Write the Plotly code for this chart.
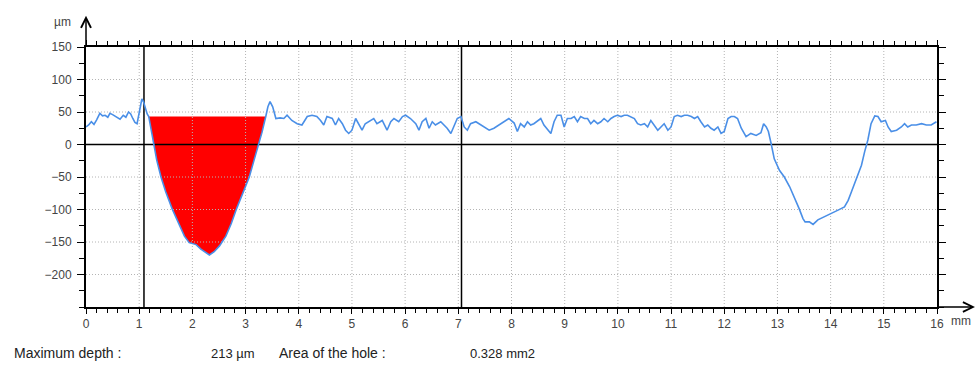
import numpy as np
import plotly.graph_objects as go

# Surface profile: position along the scan (mm) and height (µm)
X_MM = [
    0.00, 0.05, 0.10, 0.15, 0.20, 0.26, 0.31, 0.36, 0.41, 0.45, 0.50, 0.55, 0.60, 0.64,
    0.70, 0.75, 0.80, 0.84, 0.88, 0.92, 0.96, 1.00, 1.03, 1.05, 1.08, 1.12, 1.15,
    1.18, 1.23, 1.28, 1.33, 1.41, 1.50, 1.62, 1.74, 1.85, 1.94, 2.00, 2.07, 2.16, 2.26,
    2.32, 2.41, 2.51, 2.63, 2.73, 2.83, 2.96, 3.07, 3.16, 3.25, 3.31, 3.38, 3.42, 3.46,
    3.51, 3.57, 3.65, 3.72, 3.78, 3.87, 3.97, 4.06, 4.16, 4.25, 4.34, 4.41, 4.47, 4.53,
    4.63, 4.69, 4.75, 4.82, 4.88, 4.94, 5.00, 5.07, 5.13, 5.19, 5.25, 5.32, 5.41, 5.47,
    5.57, 5.66, 5.73, 5.79, 5.88, 5.95, 6.01, 6.10, 6.20, 6.26, 6.32, 6.39, 6.45, 6.51,
    6.57, 6.67, 6.73, 6.79, 6.86, 6.92, 6.98, 7.05, 7.11, 7.17, 7.23, 7.33, 7.42, 7.48,
    7.58, 7.67, 7.76, 7.86, 7.95, 8.05, 8.11, 8.17, 8.24, 8.30, 8.36, 8.42, 8.49, 8.55,
    8.61, 8.68, 8.74, 8.80, 8.86, 8.93, 8.99, 9.05, 9.12, 9.18, 9.24, 9.30, 9.37, 9.43,
    9.49, 9.55, 9.62, 9.68, 9.74, 9.81, 9.87, 9.93, 9.99, 10.06, 10.12, 10.18, 10.24,
    10.31, 10.37, 10.43, 10.50, 10.56, 10.62, 10.68, 10.75, 10.81, 10.87, 10.94, 11.00,
    11.06, 11.12, 11.19, 11.25, 11.31, 11.38, 11.44, 11.50, 11.56, 11.63, 11.69, 11.75,
    11.81, 11.88, 11.94, 12.00, 12.07, 12.13, 12.19, 12.25, 12.32, 12.41, 12.50, 12.60,
    12.69, 12.74, 12.79, 12.83, 12.88, 12.94, 13.04, 13.13, 13.23, 13.32, 13.41, 13.48,
    13.52, 13.60, 13.67, 13.76, 13.89, 14.01, 14.14, 14.26, 14.33, 14.39, 14.48, 14.58,
    14.64, 14.70, 14.76, 14.83, 14.89, 14.95, 15.03, 15.08, 15.14, 15.24, 15.33, 15.39,
    15.45, 15.52, 15.61, 15.71, 15.80, 15.89, 15.99,
]
Y_UM = [
    27, 30, 35, 31, 38, 48, 44, 45, 42, 48, 46, 43, 40, 39,
    45, 42, 50, 47, 40, 34, 32, 48, 62, 70, 66, 55, 47,
    43, 19, 0, -24, -50, -73, -99, -122, -141, -151, -152, -154, -161, -166,
    -170, -165, -156, -141, -122, -99, -73, -50, -24, 0, 19, 43, 58, 66,
    58, 40, 41, 40, 45, 37, 32, 30, 43, 45, 43, 37, 30, 43,
    40, 30, 40, 32, 22, 17, 22, 40, 30, 22, 32, 35, 40, 32,
    37, 22, 35, 40, 35, 43, 45, 40, 32, 22, 35, 40, 25, 35,
    30, 35, 30, 25, 17, 30, 40, 43, 27, 22, 32, 35, 30, 27,
    22, 25, 30, 35, 40, 33, 20, 32, 27, 35, 30, 32, 37, 40,
    30, 22, 17, 35, 45, 45, 27, 40, 40, 43, 35, 43, 40, 40,
    32, 37, 32, 35, 40, 35, 40, 43, 45, 43, 45, 45, 43,
    40, 32, 30, 32, 27, 37, 30, 22, 27, 32, 22, 27,
    43, 45, 43, 45, 45, 43, 40, 43, 35, 27, 30, 25,
    22, 27, 17, 20, 40, 43, 43, 40, 25, 12, 17, 14,
    18, 32, 27, 20, 2, -22, -40, -50, -65, -81, -99, -114,
    -119, -119, -123, -116, -111, -107, -101, -96, -86, -73, -52, -32,
    -11, 7, 32, 44, 43, 35, 37, 27, 20, 22, 27, 32,
    27, 30, 30, 32, 30, 30, 35,
]

REF_LEVEL_UM = 43          # reference level the hole is measured from
CURSOR_X_MM = [1.09, 7.06]  # measurement cursors
AREA_TEXT = "0.328 mm2"

X_TICKS = list(range(0, 17))
Y_TICKS = [-200, -150, -100, -50, 0, 50, 100, 150]
X_RANGE = [0, 16]
Y_RANGE = [-250, 150]

x = np.array(X_MM, dtype=float)
y = np.array(Y_UM, dtype=float)

# Region of the hole: contiguous run below the reference level around the deepest point
i0 = int(np.argmin(y))
lo = i0
while lo > 0 and y[lo - 1] <= REF_LEVEL_UM:
    lo -= 1
hi = i0
while hi < len(y) - 1 and y[hi + 1] <= REF_LEVEL_UM:
    hi += 1


def crossing(i_out, i_in):
    return x[i_out] + (REF_LEVEL_UM - y[i_out]) * (x[i_in] - x[i_out]) / (y[i_in] - y[i_out])


if y[lo] < REF_LEVEL_UM and lo > 0:
    xl = crossing(lo - 1, lo)
else:
    xl = x[lo]
if y[hi] < REF_LEVEL_UM and hi < len(y) - 1:
    xr = crossing(hi + 1, hi)
else:
    xr = x[hi]
fill_x = [xl] + list(x[lo:hi + 1]) + [xr]
fill_y = [REF_LEVEL_UM] + list(np.minimum(y[lo:hi + 1], REF_LEVEL_UM)) + [REF_LEVEL_UM]
max_depth = REF_LEVEL_UM - y.min()

fig = go.Figure()

# red hole area
fig.add_trace(go.Scatter(
    x=fill_x, y=fill_y, mode="lines", fill="toself", fillcolor="#ff0000",
    line=dict(width=0, color="#ff0000"), hoverinfo="skip",
))

# dotted grid drawn over the hole fill
gx, gy = [], []
for t in X_TICKS[1:-1]:
    gx += [t, t, None]
    gy += [Y_RANGE[0], Y_RANGE[1], None]
for t in Y_TICKS:
    if t in (0, Y_RANGE[1]):
        continue
    gx += [X_RANGE[0], X_RANGE[1], None]
    gy += [t, t, None]
fig.add_trace(go.Scatter(
    x=gx, y=gy, mode="lines", hoverinfo="skip",
    line=dict(color="#b4b4b4", width=1, dash="1px,2px"),
))

# zero line
fig.add_trace(go.Scatter(
    x=X_RANGE, y=[0, 0], mode="lines", hoverinfo="skip",
    line=dict(color="black", width=1.5),
))

# cursor lines
cx, cy = [], []
for c in CURSOR_X_MM:
    cx += [c, c, None]
    cy += [Y_RANGE[0], Y_RANGE[1], None]
fig.add_trace(go.Scatter(
    x=cx, y=cy, mode="lines", hoverinfo="skip",
    line=dict(color="black", width=1.5),
))

# profile
fig.add_trace(go.Scatter(
    x=X_MM, y=Y_UM, mode="lines",
    line=dict(color="#4a8fe7", width=1.6),
))

tick_font = dict(family="Liberation Sans, Arial, sans-serif", size=12, color="#444444")
text_font = dict(family="Liberation Sans, Arial, sans-serif", size=13, color="#222222")
label_font = dict(family="Liberation Sans, Arial, sans-serif", size=14, color="#222222")

fig.update_layout(
    width=976, height=365,
    margin=dict(l=86, r=39, t=47, b=58),
    paper_bgcolor="white", plot_bgcolor="white",
    showlegend=False,
    xaxis=dict(
        range=X_RANGE, tickvals=X_TICKS, showgrid=False, zeroline=False,
        showline=True, linecolor="black", linewidth=2, mirror="ticks",
        ticks="outside", ticklen=5, tickwidth=1.2, tickcolor="black",
        minor=dict(dtick=0.2, ticks="outside", ticklen=4, tickwidth=1, tickcolor="black"),
        tickfont=tick_font, layer="above traces",
    ),
    yaxis=dict(
        range=Y_RANGE, tickvals=Y_TICKS, showgrid=False, zeroline=False,
        showline=True, linecolor="black", linewidth=2, mirror="ticks",
        ticks="outside", ticklen=7, tickwidth=1.2, tickcolor="black",
        minor=dict(dtick=25, tick0=0, ticks="outside", ticklen=5, tickwidth=1, tickcolor="black"),
        tickfont=tick_font, layer="above traces", ticklabelstandoff=3,
    ),
    annotations=[
        # axis arrows
        dict(x=0, xref="x", y=1.12, yref="paper", ax=0, ay=32, axref="pixel", ayref="pixel",
             text="", showarrow=True, arrowhead=5, arrowsize=1.3, arrowwidth=1.5,
             arrowcolor="black"),
        dict(x=1.0447, xref="paper", y=0, yref="paper", ax=-38, ay=0, axref="pixel",
             ayref="pixel", text="", showarrow=True, arrowhead=5, arrowsize=1.3,
             arrowwidth=1.5, arrowcolor="black"),
        # units
        dict(x=-0.028, xref="paper", y=1.096, yref="paper", text="µm", showarrow=False,
             xanchor="center", yanchor="middle", font=tick_font),
        dict(x=1.028, xref="paper", y=-0.054, yref="paper", text="mm", showarrow=False,
             xanchor="center", yanchor="middle", font=tick_font),
        # results
        dict(x=-0.0873, xref="paper", y=-0.177, yref="paper", text="Maximum depth :",
             showarrow=False, xanchor="left", yanchor="middle", font=label_font),
        dict(x=0.201, xref="paper", y=-0.177, yref="paper", text=f"{max_depth:.0f} µm",
             showarrow=False, xanchor="right", yanchor="middle", font=text_font),
        dict(x=0.2244, xref="paper", y=-0.177, yref="paper", text="Area of the hole :",
             showarrow=False, xanchor="left", yanchor="middle", font=label_font),
        dict(x=0.4489, xref="paper", y=-0.177, yref="paper", text=AREA_TEXT,
             showarrow=False, xanchor="left", yanchor="middle", font=text_font),
    ],
)

fig.write_html("out.html", config={"displayModeBar": False})
